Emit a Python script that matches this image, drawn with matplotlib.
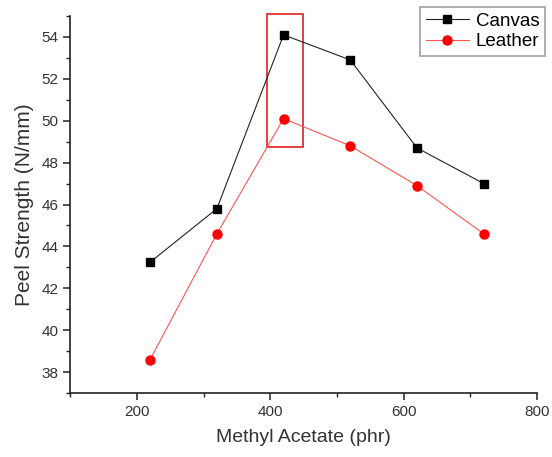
import matplotlib.pyplot as plt
from matplotlib.patches import Rectangle
from matplotlib.ticker import MultipleLocator

plt.rcParams['font.family'] = ['Liberation Sans', 'DejaVu Sans']

methyl_acetate = [220, 320, 420, 520, 620, 720]
canvas = [43.25, 45.8, 54.1, 52.9, 48.7, 47.0]
leather = [38.6, 44.6, 50.1, 48.8, 46.9, 44.6]

fig = plt.figure(figsize=(5.52, 4.57), dpi=100)
ax = fig.add_axes([0.127, 0.140, 0.846, 0.825])

ax.plot(methyl_acetate, canvas, color='#222222', lw=0.8, marker='s',
        markersize=5.5, markerfacecolor='black', markeredgecolor='black', label='Canvas')
ax.plot(methyl_acetate, leather, color='#ff5555', lw=0.8, marker='o',
        markersize=6.5, markerfacecolor='red', markeredgecolor='red', label='Leather')

# highlight box around the peak
ax.add_patch(Rectangle((395, 48.75), 54, 6.35, fill=False, edgecolor='#e03030',
                       lw=1.3, clip_on=False))

ax.set_xlim(100, 800)
ax.set_ylim(37, 55)
ax.xaxis.set_major_locator(MultipleLocator(200))
ax.xaxis.set_minor_locator(MultipleLocator(100))
ax.yaxis.set_minor_locator(MultipleLocator(1))
ax.set_yticks(range(38, 56, 2))

for s in ['top', 'right']:
    ax.spines[s].set_visible(False)
for s in ['left', 'bottom']:
    ax.spines[s].set_linewidth(1.2)
    ax.spines[s].set_color('#222222')

ax.tick_params(which='major', direction='out', length=5, width=1.1, labelsize=11,
               colors='#222222', labelcolor='#333333')
ax.tick_params(which='minor', direction='out', length=3, width=1.0, colors='#222222')

ax.set_xlabel('Methyl Acetate (phr)', fontsize=14, color='#333333', labelpad=7)
ax.set_ylabel('Peel Strength (N/mm)', fontsize=15, color='#333333', labelpad=5)

leg = ax.legend(loc='upper right', bbox_to_anchor=(0.987, 0.985),
                bbox_transform=fig.transFigure, borderaxespad=0, fontsize=13.5,
                fancybox=False, edgecolor='#888888', handlelength=2.3,
                handletextpad=0.35, borderpad=0.3, labelspacing=0.2)
leg.get_frame().set_linewidth(1.2)

fig.savefig('out.png', dpi=100)
